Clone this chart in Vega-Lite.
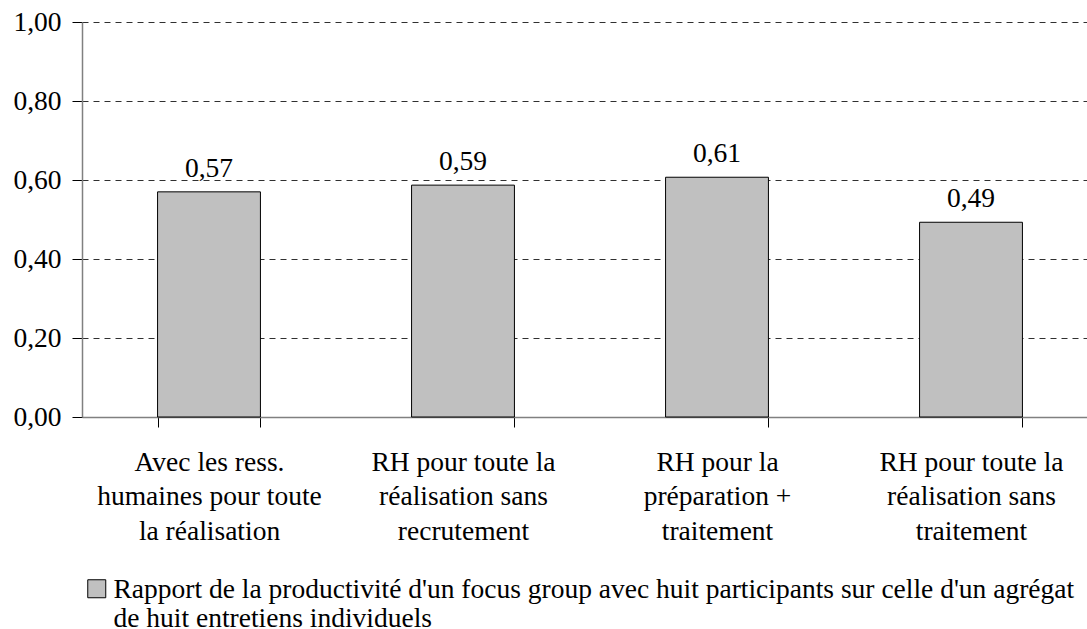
{
  "$schema": "https://vega.github.io/schema/vega-lite/v6.json",
  "autosize": {"type": "none"},
  "padding": {"left": 82, "top": 22, "right": 0, "bottom": 212},
  "width": 1016,
  "height": 395,
  "background": "white",
  "config": {
    "locale": {"number": {"decimal": ",", "thousands": " ", "grouping": [3], "currency": ["", " €"]}},
    "font": "Liberation Serif",
    "view": {"stroke": null}
  },
  "data": {
    "values": [
      {"cat": "Avec les ress.|humaines pour toute|la réalisation", "order": 1, "value": 0.57, "serie": "Rapport de la productivité d'un focus group avec huit participants sur celle d'un agrégat|de huit entretiens individuels"},
      {"cat": "RH pour toute la|réalisation sans|recrutement", "order": 2, "value": 0.587, "serie": "Rapport de la productivité d'un focus group avec huit participants sur celle d'un agrégat|de huit entretiens individuels"},
      {"cat": "RH pour la|préparation +|traitement", "order": 3, "value": 0.607, "serie": "Rapport de la productivité d'un focus group avec huit participants sur celle d'un agrégat|de huit entretiens individuels"},
      {"cat": "RH pour toute la|réalisation sans|traitement", "order": 4, "value": 0.493, "serie": "Rapport de la productivité d'un focus group avec huit participants sur celle d'un agrégat|de huit entretiens individuels"}
    ]
  },
  "encoding": {
    "x": {
      "field": "cat", "type": "nominal", "sort": {"field": "order"},
      "scale": {"paddingInner": 0.595, "paddingOuter": 0.2975},
      "axis": {
        "title": null, "labelAngle": 0, "labelExpr": "isString(datum.value) ? split(datum.value, '|') : ''",
        "labelFont": "Liberation Serif", "labelFontSize": 27.5, "labelColor": "black",
        "labelLineHeight": 34.5, "labelPadding": 21, "labelLimit": 0, "labelBaseline": "top",
        "tickBand": "extent", "tickSize": 10, "tickColor": "black",
        "domainColor": "#808080", "domainWidth": 1.5, "grid": false
      }
    },
    "y": {
      "field": "value", "type": "quantitative",
      "scale": {"domain": [0, 1], "nice": false},
      "axis": {
        "title": null, "values": [0, 0.2, 0.4, 0.6, 0.8, 1.0], "format": ".2f",
        "labelFont": "Liberation Serif", "labelFontSize": 27.5, "labelColor": "black",
        "labelPadding": 11, "tickSize": 10, "tickColor": "black",
        "domainColor": "#808080", "domainWidth": 1.5,
        "grid": true, "gridColor": "#303030", "gridDash": [6, 5], "gridWidth": 1
      }
    }
  },
  "layer": [
    {
      "mark": {"type": "bar", "stroke": "black", "strokeWidth": 1},
      "encoding": {
        "color": {
          "field": "serie", "type": "nominal",
          "scale": {"range": ["#c0c0c0"]},
          "legend": {
            "title": null, "orient": "none", "legendX": 1, "legendY": 553,
            "symbolType": "square", "symbolSize": 324, "symbolStrokeColor": "black", "symbolStrokeWidth": 1,
            "symbolFillColor": "#c0c0c0",
            "labelExpr": "split(datum.value, '|')",
            "labelFont": "Liberation Serif", "labelFontSize": 27.5, "labelColor": "black",
            "labelLimit": 0, "labelLineHeight": 29, "labelBaseline": "alphabetic", "labelOffset": 3,
            "encode": {"labels": {"update": {"dy": {"value": 9}}}}
          }
        }
      }
    },
    {
      "mark": {"type": "text", "dy": -15, "baseline": "alphabetic", "fontSize": 27.5, "font": "Liberation Serif", "color": "black"},
      "encoding": {"text": {"field": "value", "type": "quantitative", "format": ".2f"}}
    }
  ]
}
